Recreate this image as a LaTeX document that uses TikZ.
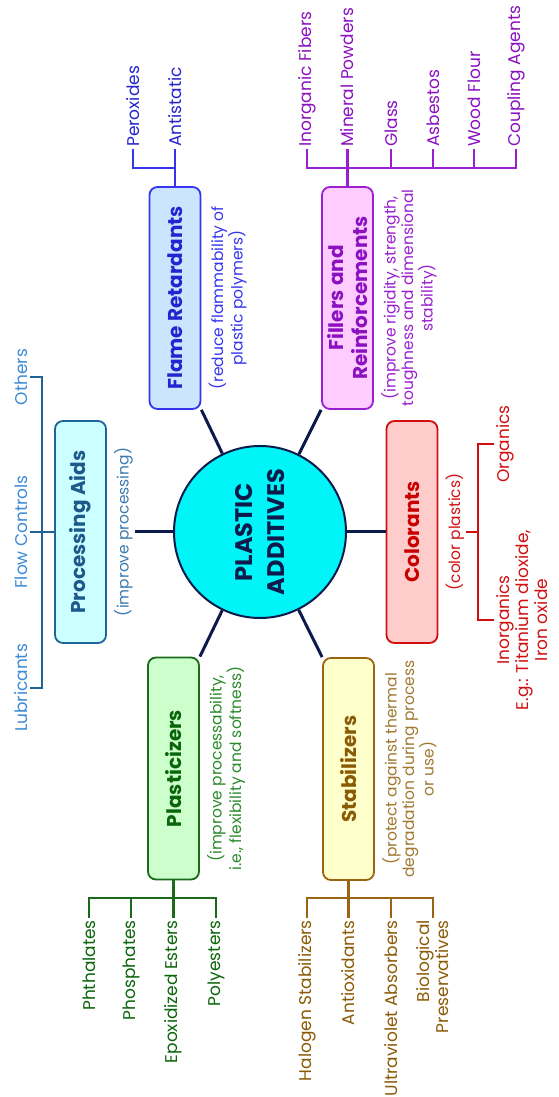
\documentclass[tikz,border=0pt]{standalone}
\usepackage{fontspec}
\setmainfont{Poppins}
\usetikzlibrary{positioning}

\definecolor{hubfill}{HTML}{00F5F8}
\definecolor{hubline}{HTML}{0D1B4C}
\definecolor{procfill}{HTML}{CCFFFF}
\definecolor{procline}{HTML}{1F6496}
\definecolor{proctext}{HTML}{1B5A8A}
\definecolor{procnote}{HTML}{3A7AB0}
\definecolor{procleaf}{HTML}{3B8BD6}
\definecolor{flamefill}{HTML}{CCE5FF}
\definecolor{flameline}{HTML}{3535F0}
\definecolor{flametext}{HTML}{2424D0}
\definecolor{fillerfill}{HTML}{FFCCFF}
\definecolor{fillerline}{HTML}{9A1FCF}
\definecolor{fillertext}{HTML}{8A10C0}
\definecolor{colfill}{HTML}{FFCCCC}
\definecolor{colline}{HTML}{D01010}
\definecolor{coltext}{HTML}{C80000}
\definecolor{stabfill}{HTML}{FFFFCC}
\definecolor{stabline}{HTML}{9A6412}
\definecolor{stabtext}{HTML}{8A5A05}
\definecolor{stabnote}{HTML}{A07830}
\definecolor{plastfill}{HTML}{CCFFCC}
\definecolor{plastline}{HTML}{1A6A1A}
\definecolor{plasttext}{HTML}{0A640A}
\definecolor{plastnote}{HTML}{2A8A2A}

\begin{document}
\begin{tikzpicture}[x=1pt, y=-1pt, rotate=90, every node/.style={transform shape},
  hub/.style={circle, draw=hubline, line width=2pt, fill=hubfill, minimum size=172pt, align=center, text=hubline, font=\fontsize{24}{32}\selectfont\bfseries},
  block/.style={rectangle, rounded corners=8pt, line width=1.8pt, minimum height=51pt, minimum width=222pt, inner sep=2pt, align=center, font=\fontsize{20}{24}\selectfont\bfseries},
  note/.style={align=center, inner sep=2pt, font=\fontsize{15.5}{17.5}\selectfont},
  leaf/.style={inner sep=2pt, font=\fontsize{17}{19}\selectfont},
  spoke/.style={draw=hubline, line width=3pt},
  twig/.style={line width=2.4pt}]
\useasboundingbox (0,0) rectangle (1097,558);
\node[hub] (hub) at (565,260) {PLASTIC\\ADDITIVES};
% the six groups
\node[block, draw=procline, fill=procfill, text=proctext] (proc) at (565,80.5) {Processing Aids};
\node[note, text=procnote, below=5pt of proc] (procsub) {(improve processing)};
\node[block, draw=flameline, fill=flamefill, text=flametext] (flame) at (799,175) {Flame Retardants};
\node[note, text=flameline, below=5pt of flame] (flamesub) {(reduce flammability of\\plastic polymers)};
\node[block, draw=fillerline, fill=fillerfill, text=fillertext] (filler) at (799,347.5) {Fillers and\\Reinforcements};
\node[note, text=fillerline, below=5pt of filler] (fillersub) {(improve rigidity, strength,\\toughness and dimensional\\stability)};
\node[block, draw=colline, fill=colfill, text=coltext] (colr) at (565,412) {Colorants};
\node[note, text=colline, below=5pt of colr] (colrsub) {(color plastics)};
\node[block, draw=stabline, fill=stabfill, text=stabtext] (stab) at (328,348.5) {Stabilizers};
\node[note, text=stabnote, below=5pt of stab] (stabsub) {(protect against thermal\\degradation during process\\or use)};
\node[block, draw=plastline, fill=plastfill, text=plasttext] (plast) at (328.5,173.5) {Plasticizers};
\node[note, text=plastnote, below=5pt of plast] (plastsub) {(improve processability,\\i.e., flexibility and softness)};
\draw[spoke] (hub) -- (procsub); \draw[spoke] (hub) -- (colr); \draw[spoke] (hub) -- (flame.south west);
\draw[spoke] (hub) -- (filler.north west); \draw[spoke] (hub) -- (plast.south east); \draw[spoke] (hub) -- (stab.north east);
% processing aids
\node[leaf, text=procleaf, anchor=south] (lubr) at (409,30) {Lubricants};
\node[leaf, text=procleaf, anchor=south] (flow) at (565,30) {Flow Controls};
\node[leaf, text=procleaf, anchor=south] (other) at (720,30) {Others};
\draw[twig, procline] (lubr.south) -- ++(0,12) -| (other.south); \draw[twig, procline] (proc) -- (flow.south);
% flame retardants
\node[leaf, text=flametext, anchor=west] (perox) at (948,133) {Peroxides};
\node[leaf, text=flametext, anchor=west] (antis) at (948,175) {Antistatic};
\draw[twig, flameline] (perox.west) -- ++(-19,0) |- (flame.east); \draw[twig, flameline] (flame) -- (antis);
% fillers and reinforcements
\node[leaf, text=fillertext, anchor=west] (fibr) at (948,307) {Inorganic Fibers};
\node[leaf, text=fillertext, anchor=west] (powd) at (948,347.5) {Mineral Powders};
\node[leaf, text=fillertext, anchor=west] (glass) at (948,391) {Glass};
\node[leaf, text=fillertext, anchor=west] (asbest) at (948,433) {Asbestos};
\node[leaf, text=fillertext, anchor=west] (wood) at (948,474) {Wood Flour};
\node[leaf, text=fillertext, anchor=west] (coupl) at (948,516) {Coupling Agents};
\draw[twig, fillerline] (fibr.west) -- ++(-19,0) |- (coupl.west); \draw[twig, fillerline] (filler) -- (powd);
\foreach \n in {glass,asbest,wood} \draw[twig, fillerline] (\n.west) -- ++(-19,0);
% colorants
\coordinate (colfork) at (565,478);
\node[leaf, text=colline, anchor=north, align=center] (inorg) at (477,494) {Inorganics\\E.g.: Titanium dioxide,\\Iron oxide};
\node[leaf, text=colline, anchor=north] (organ) at (653,494) {Organics};
\draw[twig, colline] (inorg.north) -- ++(0,-16) -| (organ.north); \draw[twig, colline] (colrsub) -- (colfork);
% stabilizers
\node[leaf, text=stabtext, anchor=east] (halog) at (179,307) {Halogen Stabilizers};
\node[leaf, text=stabtext, anchor=east] (antiox) at (179,348.5) {Antioxidants};
\node[leaf, text=stabtext, anchor=east] (uvabs) at (179,391) {Ultraviolet Absorbers};
\node[leaf, text=stabtext, anchor=east, align=right] (biol) at (179,433) {Biological\\Preservatives};
\draw[twig, stabline] (halog.east) -- ++(20,0) |- (biol.east); \draw[twig, stabline] (stab) -- (antiox);
\draw[twig, stabline] (uvabs.east) -- ++(20,0);
% plasticizers
\node[leaf, text=plasttext, anchor=east] (phth) at (179,89) {Phthalates};
\node[leaf, text=plasttext, anchor=east] (phos) at (179,131) {Phosphates};
\node[leaf, text=plasttext, anchor=east] (epox) at (179,173.5) {Epoxidized Esters};
\node[leaf, text=plasttext, anchor=east] (polyes) at (179,216) {Polyesters};
\draw[twig, plastline] (phth.east) -- ++(20,0) |- (polyes.east); \draw[twig, plastline] (plast) -- (epox);
\draw[twig, plastline] (phos.east) -- ++(20,0);
\end{tikzpicture}
\end{document}
